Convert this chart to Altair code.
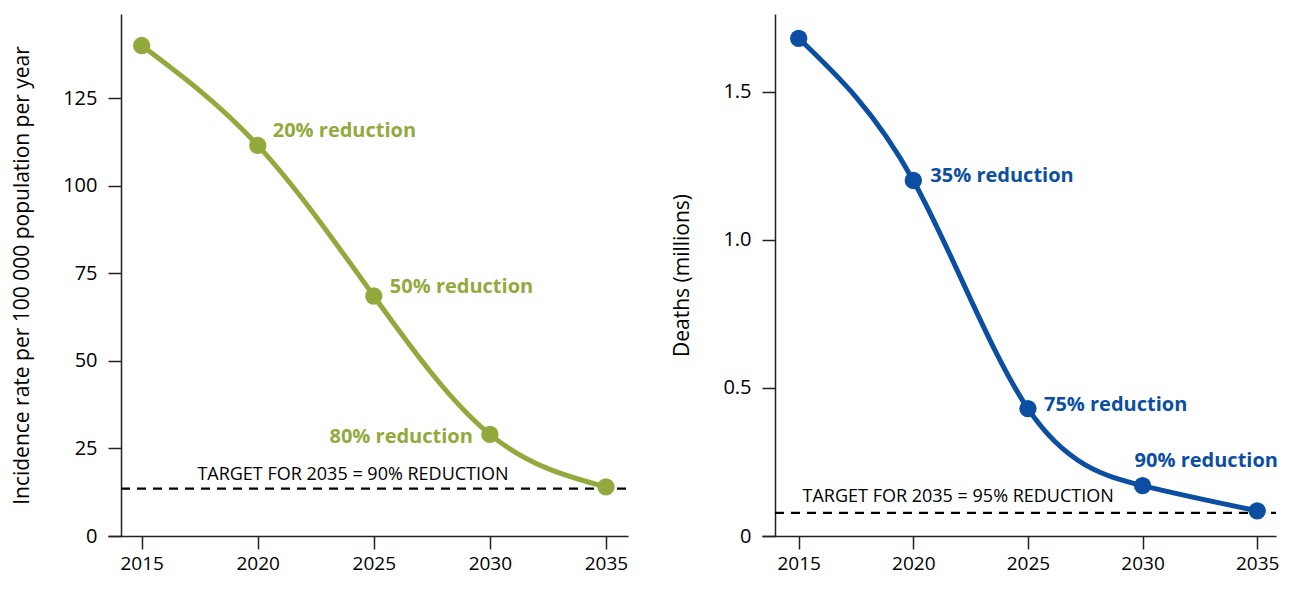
import altair as alt
import pandas as pd

years = [2015, 2020, 2025, 2030, 2035]
incidence = [140.0, 111.5, 68.5, 29.0, 14.0]
deaths = [1.68, 1.20, 0.43, 0.17, 0.085]
inc_target = 13.5
death_target = 0.078

inc_labels = ["20% reduction", "50% reduction", "80% reduction"]
inc_label_years = [2020, 2025, 2030]
death_labels = ["35% reduction", "75% reduction", "90% reduction"]
death_label_years = [2020, 2025, 2030]
inc_target_text = "TARGET FOR 2035 = 90% REDUCTION"
death_target_text = "TARGET FOR 2035 = 95% REDUCTION"

GREEN = "#92aa3d"
BLUE = "#0b4ea2"
FONT = "Open Sans"
H = 522


def panel(values, target, color, ydom, yticks, ytitle, labels, label_years,
          offsets, target_text, target_text_year, target_dy, fmt, W, xdom):
    df = pd.DataFrame({"year": years, "v": values})
    x = alt.X("year:Q", scale=alt.Scale(domain=xdom, nice=False, zero=False),
              axis=alt.Axis(values=years, format="d", title=None, grid=False,
                            tickSize=13, labelPadding=5, labelFontSize=19,
                            labelFont=FONT, labelColor="black",
                            domainColor="#222", tickColor="#222",
                            domainWidth=1.5, tickWidth=1.5))
    y = alt.Y("v:Q", scale=alt.Scale(domain=ydom, nice=False),
              axis=alt.Axis(values=yticks, title=ytitle, grid=False,
                            offset=-13, tickSize=13, labelPadding=11,
                            labelFontSize=20, labelFont=FONT, labelColor="black",
                            labelExpr=fmt,
                            titleFont=FONT, titleFontSize=21, titleFontWeight="normal",
                            titleColor="black", titlePadding=30,
                            domainColor="#222", tickColor="#222",
                            domainWidth=1.5, tickWidth=1.5))
    base = alt.Chart(df)
    tdf = pd.DataFrame({"v": [target]})
    rule = alt.Chart(tdf).mark_rule(color="black", strokeDash=[9, 7], strokeWidth=2.2).encode(
        y=alt.Y("v:Q", scale=alt.Scale(domain=ydom, nice=False)),
        x=alt.value(13), x2=alt.value(W))
    line = base.mark_line(color=color, strokeWidth=5, interpolate="natural").encode(x=x, y=y)
    pts = base.mark_circle(color=color, opacity=1, size=300).encode(x="year:Q", y="v:Q")
    layers = [rule, line, pts]
    for lab, yr, (dx, dy, al) in zip(labels, label_years, offsets):
        val = values[years.index(yr)]
        ldf = pd.DataFrame({"year": [yr], "v": [val], "t": [lab]})
        layers.append(alt.Chart(ldf).mark_text(
            color=color, font=FONT, fontSize=20, fontWeight="bold",
            align=al, baseline="middle", dx=dx, dy=dy).encode(
            x="year:Q", y="v:Q", text="t:N"))
    tt = pd.DataFrame({"year": [target_text_year], "v": [target], "t": [target_text]})
    layers.append(alt.Chart(tt).mark_text(
        color="black", font=FONT, fontSize=18, align="left", baseline="middle",
        dy=target_dy).encode(x="year:Q", y="v:Q", text="t:N"))
    return alt.layer(*layers).properties(width=W, height=H)


left = panel(incidence, inc_target, GREEN, [0, 149], [0, 25, 50, 75, 100, 125],
             "Incidence rate per 100 000 population per year",
             inc_labels, inc_label_years,
             [(15, -14, "left"), (16, -9, "left"), (-17, 3, "right")],
             inc_target_text, 2017.4, -14, "format(datum.value, 'd')",
             520, [2013.55, 2035.95])

right = panel(deaths, death_target, BLUE, [0, 1.762], [0, 0.5, 1.0, 1.5],
              "Deaths (millions)",
              death_labels, death_label_years,
              [(17, -4, "left"), (16, -4, "left"), (-8, -25, "left")],
              death_target_text, 2015.17, -16,
              "datum.value == 0 ? '0' : format(datum.value, '.1f')",
              514, [2013.40, 2035.82])

chart = alt.hconcat(left, right, spacing=41).properties(
    padding={"left": 3, "top": 6, "right": 0, "bottom": 8}
).configure(background="white", view=alt.ViewConfig(stroke=None))

chart.save("out.html", embed_options={"renderer": "svg", "actions": False})
